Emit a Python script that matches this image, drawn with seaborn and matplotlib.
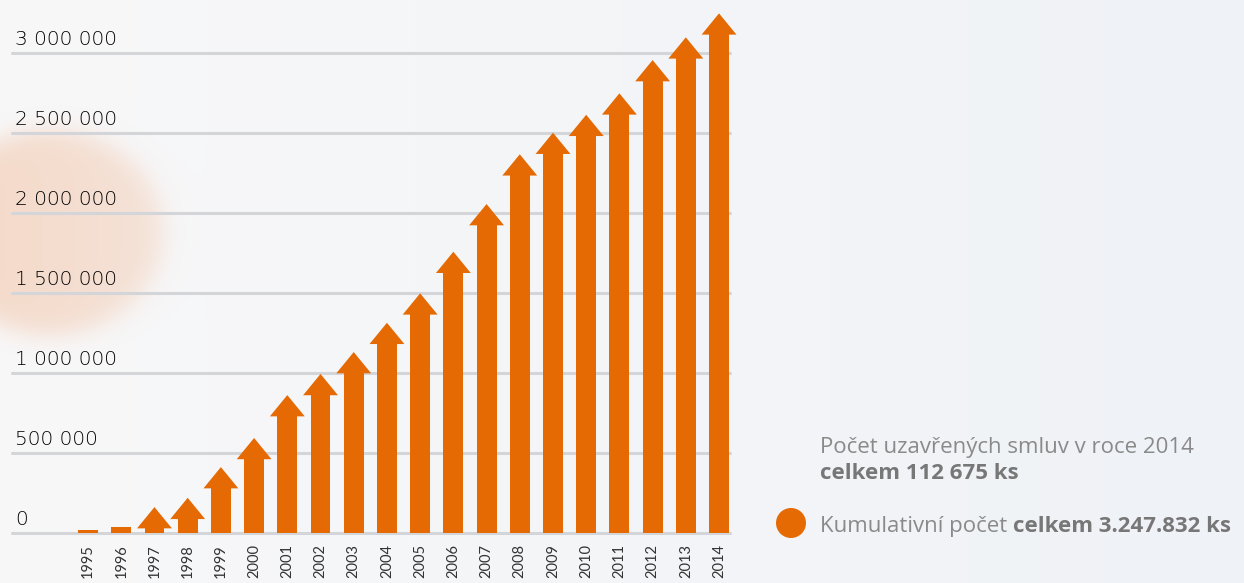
import numpy as np
import matplotlib
matplotlib.use('Agg')
import matplotlib.pyplot as plt
from matplotlib.patches import Circle
import seaborn as sns

# cumulative number of contracts (tip of each arrow)
years = ['1995', '1996', '1997', '1998', '1999', '2000', '2001', '2002', '2003', '2004',
         '2005', '2006', '2007', '2008', '2009', '2010', '2011', '2012', '2013', '2014']
values = [20000, 35000, 162000, 220000, 412000, 594000, 862000, 994000, 1131000, 1314000,
          1498000, 1758000, 2056000, 2367000, 2502000, 2614000, 2748000, 2956000, 3098000, 3247832]
y_ticks = [0, 500000, 1000000, 1500000, 2000000, 2500000, 3000000]
y_tick_labels = ['0', '500 000', '1 000 000', '1 500 000', '2 000 000', '2 500 000', '3 000 000']

line1 = 'Počet uzavřených smluv v roce 2014'
line2 = 'celkem 112 675 ks'
line3a = 'Kumulativní počet'
line3b = 'celkem 3.247.832 ks'

orange = '#e56a03'
head_h = 125000      # arrow head height in data units
head_w = 1.05        # arrow head width in category units

W, H = 1244, 583
sns.set_theme(style='white')
plt.rcParams['font.family'] = ['Open Sans', 'DejaVu Sans']

fig = plt.figure(figsize=(W / 100, H / 100), dpi=100)

# background: soft gradient with a pale peach blob on the left
bg = fig.add_axes([0, 0, 1, 1])
xx, yy = np.meshgrid(np.arange(W), np.arange(H))
t = xx / W
base = np.stack([248 - 9 * t, 248 - 6 * t, 249 - 3 * t], axis=-1)
r = np.sqrt(((xx - 50) / 112.0) ** 2 + ((yy - 232) / 102.0) ** 2)
blob = 0.26 / (1 + np.exp((r - 1) * 14)) * (1.15 - 0.3 * np.clip(xx / 160, 0, 1))
peach = np.array([236, 150, 95])
img = base * (1 - blob[..., None]) + peach * blob[..., None]
bg.imshow(img.astype(np.uint8), extent=(0, W, H, 0), aspect='auto')
bg.set_xlim(0, W)
bg.set_ylim(H, 0)
bg.axis('off')

ax = fig.add_axes([12 / W, 50 / H, (730 - 12) / W, (575 - 50) / H])
ax.patch.set_alpha(0)

shafts = [v - head_h if v > head_h else v for v in values]
sns.barplot(x=years, y=shafts, color=orange, saturation=1, width=0.6,
            linewidth=0, ax=ax, zorder=3)

overlap = 8000  # about one pixel, hides the seam between shaft and head
for p, v, s in zip(ax.patches, values, shafts):
    p.set_clip_on(False)
    if v > head_h:
        cx = p.get_x() + p.get_width() / 2
        ax.fill([cx - head_w / 2, cx + head_w / 2, cx], [s - overlap, s - overlap, v],
                color=orange, lw=0, zorder=3, clip_on=False)

for tk, lab in zip(y_ticks, y_tick_labels):
    ax.axhline(tk, color='#d3d5d8', lw=2.2, zorder=1, clip_on=False)
    ax.annotate(lab, xy=(0, tk), xycoords=('axes fraction', 'data'),
                xytext=(2, 6), textcoords='offset points', ha='left', va='baseline',
                fontsize=14.5, color='#000000', fontweight='light',
                family=['DejaVu Sans'])

ax.set_xlim(-2.29, 19.33)
ax.set_ylim(0, 3281250)
ax.set_yticks([])
ax.set_xlabel('')
ax.set_ylabel('')
ax.tick_params(axis='x', length=0, pad=8, labelrotation=90, labelsize=10.5, colors='#333333')
for lab in ax.get_xticklabels():
    lab.set_family(['Lato', 'DejaVu Sans'])
sns.despine(ax=ax, left=True, bottom=True)

# legend text on the right
grey = '#8a8a8a'
fs = 16
fig.text(820 / W, 1 - 453 / H, line1, fontsize=fs, color=grey, va='baseline')
fig.text(820 / W, 1 - 479 / H, line2, fontsize=fs, color='#777777',
         fontweight='bold', va='baseline')
t3 = fig.text(820 / W, 1 - 532 / H, line3a, fontsize=fs, color=grey, va='baseline')
bg.add_patch(Circle((791, 523), 15, color=orange, lw=0))

renderer = fig.canvas.get_renderer()
bb = t3.get_window_extent(renderer)
fig.text((bb.x1 + 6) / W, 1 - 532 / H, line3b, fontsize=fs, color='#777777',
         fontweight='bold', va='baseline')

fig.savefig('out.png', dpi=100)
